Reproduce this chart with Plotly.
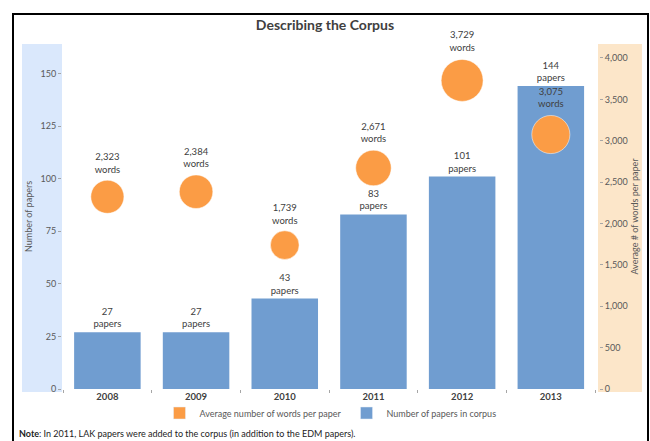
import plotly.graph_objects as go

years = ["2008", "2009", "2010", "2011", "2012", "2013"]
papers = [27, 27, 43, 83, 101, 144]
words = [2323, 2384, 1739, 2671, 3729, 3075]
left_ticks = [0, 25, 50, 75, 100, 125, 150]
right_ticks = [0, 500, 1000, 1500, 2000, 2500, 3000, 3500, 4000]

FONT = "Lato"
BLUE = "#709DD0"
ORANGE = "#FB9C45"
TXT = "#404040"
GRAY = "#595959"

W, H = 650, 441
L, R, T, B = 62, 51, 44, 52
pw, ph = W - L - R, H - T - B

def px_x(x):
    return (x - L) / pw

def px_y(y):
    return (H - B - y) / ph

fig = go.Figure()

fig.add_trace(go.Bar(
    x=years, y=papers, name="Number of papers in corpus",
    marker=dict(color=BLUE, line=dict(width=0)),
    text=[f"{p}<br>papers" for p in papers], textposition="outside",
    textfont=dict(family=FONT, size=9.5, color=TXT),
    cliponaxis=False, showlegend=False, yaxis="y",
))

fig.add_trace(go.Scatter(
    x=years, y=words, name="Average number of words per paper",
    mode="markers+text",
    marker=dict(color=ORANGE, size=words, sizemode="area", sizeref=4.23,
                line=dict(width=0.5, color="white"), opacity=1),
    text=[f"{w:,}<br>words" for w in words], textposition="top center",
    textfont=dict(family=FONT, size=9.5, color=TXT),
    cliponaxis=False, showlegend=False, yaxis="y2",
))

# legend entries (square swatches)
fig.add_trace(go.Bar(x=[None], y=[None], name="Average number of words per paper",
                     marker=dict(color=ORANGE), showlegend=True))
fig.add_trace(go.Bar(x=[None], y=[None], name="Number of papers in corpus",
                     marker=dict(color=BLUE), showlegend=True))

shapes = [
    dict(type="rect", xref="paper", yref="paper", layer="below",
         x0=px_x(22), x1=px_x(62), y0=px_y(392), y1=px_y(44),
         fillcolor="#DAE8FC", line=dict(width=0)),
    dict(type="rect", xref="paper", yref="paper", layer="below",
         x0=px_x(598), x1=px_x(642), y0=px_y(392), y1=px_y(44),
         fillcolor="#FCE6C9", line=dict(width=0)),
    dict(type="rect", xref="paper", yref="paper", layer="above",
         x0=px_x(13), x1=px_x(648), y0=px_y(470), y1=px_y(14),
         fillcolor="rgba(0,0,0,0)", line=dict(width=2, color="black")),
]

fig.update_layout(
    width=W, height=H,
    margin=dict(l=L, r=R, t=T, b=B, autoexpand=False),
    paper_bgcolor="white", plot_bgcolor="rgba(0,0,0,0)",
    barmode="overlay", bargap=0.25,
    title=dict(text="<b>Describing the Corpus</b>", x=0.5, xanchor="center",
               xref="container", yref="container", y=1 - 25 / H, yanchor="middle",
               font=dict(family=FONT, size=14, color=TXT)),
    font=dict(family=FONT, size=9, color=GRAY),
    xaxis=dict(type="category", categoryorder="array", categoryarray=years,
               tickson="boundaries", ticks="outside", ticklen=3, tickcolor="#A6A6A6",
               tickfont=dict(family=FONT, size=9.5, color=TXT, weight="bold"),
               showgrid=False, zeroline=False, showline=False, automargin=False),
    yaxis=dict(range=[0, 164], tickvals=left_ticks, ticks="outside", ticklen=3,
               tickcolor="#A6A6A6", tickfont=dict(family=FONT, size=9, color=GRAY),
               showgrid=False, zeroline=False, showline=False, automargin=False,
               title=dict(text="Number of papers", standoff=6,
                          font=dict(family=FONT, size=9, color=GRAY))),
    yaxis2=dict(range=[0, 4169], tickvals=right_ticks, overlaying="y", side="right",
                ticks="outside", ticklen=3, tickcolor="#A6A6A6", tickformat=",",
                tickfont=dict(family=FONT, size=9, color=GRAY),
                showgrid=False, zeroline=False, showline=False, automargin=False,
                title=dict(text="Average # of words per paper", standoff=4,
                           font=dict(family=FONT, size=9, color=GRAY))),
    legend=dict(orientation="h", x=0.5, xanchor="center", y=px_y(413), yanchor="middle",
                font=dict(family=FONT, size=9, color=GRAY), itemwidth=30,
                bgcolor="rgba(0,0,0,0)"),
    shapes=shapes,
    annotations=[dict(text="<b>Note</b>: In 2011, LAK papers were added to the corpus (in addition to the EDM papers).",
                      xref="paper", yref="paper", x=px_x(17), y=px_y(433),
                      xanchor="left", yanchor="middle", showarrow=False,
                      font=dict(family=FONT, size=9, color="#222222"))],
)

fig.write_html("out.html")
